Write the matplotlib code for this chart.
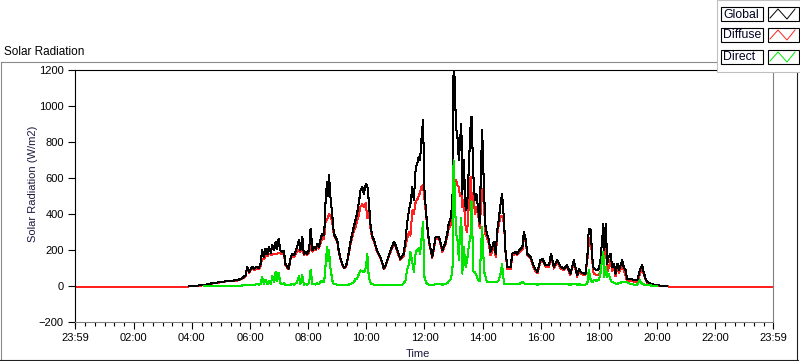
import numpy as np
import matplotlib
matplotlib.use("Agg")
import matplotlib.pyplot as plt
from matplotlib.lines import Line2D
from matplotlib.patches import Rectangle

plt.rcParams['font.family'] = ['Liberation Sans', 'DejaVu Sans']

# readings taken off the chart (W/m2), None = no sample
times = ["00:00", "03:53", "03:55", "04:10", "04:25", "04:40", "05:00", "05:15", "05:25", "05:34",
         "05:45", "05:51", "05:54", "05:58", "06:05", "06:09", "06:13", "06:18", "06:22", "06:25",
         "06:29", "06:32", "06:36", "06:39", "06:43", "06:46", "06:50", "06:53", "06:56", "06:59",
         "07:03", "07:06", "07:10", "07:13", "07:17", "07:20", "07:24", "07:28", "07:31", "07:37",
         "07:41", "07:44", "07:48", "07:51", "07:55", "07:58", "08:02", "08:05", "08:09", "08:12",
         "08:16", "08:19", "08:22", "08:26", "08:29", "08:33", "08:36", "08:39", "08:41", "08:43",
         "08:46", "08:50", "08:53", "09:00", "09:03", "09:07", "09:10", "09:14", "09:18", "09:21",
         "09:28", "09:34", "09:38", "09:41", "09:45", "09:48", "09:52", "09:55", "09:59", "10:02",
         "10:05", "10:09", "10:12", "10:16", "10:22", "10:29", "10:33", "10:36", "10:40", "10:43",
         "10:50", "10:57", "11:00", "11:04", "11:10", "11:14", "11:17", "11:21", "11:24", "11:28",
         "11:31", "11:35", "11:38", "11:42", "11:45", "11:48", "11:51", "11:53", "11:57", "12:00",
         "12:03", "12:06", "12:09", "12:16", "12:23", "12:30", "12:37", "12:43", "12:47", "12:50",
         "12:55", "12:58", "13:00", "13:02", "13:05", "13:08", "13:11", "13:13", "13:16", "13:18",
         "13:21", "13:25", "13:28", "13:32", "13:35", "13:37", "13:41", "13:44", "13:47", "13:51",
         "13:54", "13:56", "13:59", "14:03", "14:06", "14:09", "14:13", "14:16", "14:20", "14:23",
         "14:27", "14:30", "14:33", "14:37", "14:40", "14:44", "14:47", "14:51", "14:58", "15:01",
         "15:08", "15:11", "15:15", "15:22", "15:25", "15:29", "15:32", "15:39", "15:46", "15:53",
         "15:59", "16:03", "16:10", "16:17", "16:21", "16:27", "16:34", "16:41", "16:48", "16:54",
         "17:01", "17:08", "17:15", "17:19", "17:22", "17:29", "17:32", "17:36", "17:39", "17:43",
         "17:46", "17:49", "17:56", "18:00", "18:03", "18:07", "18:09", "18:11", "18:14", "18:17",
         "18:20", "18:24", "18:27", "18:31", "18:34", "18:38", "18:41", "18:48", "18:51", "18:55",
         "18:58", "19:05", "19:12", "19:19", "19:24", "19:29", "19:33", "19:36", "19:40", "19:46",
         "19:53", "20:00", "20:07", "20:21", "20:23", "23:59"]

global_rad = [None, None, 0, 2, 5, 14, 22, 28, 30, 32,
              45, 60, 106, 80, 106, 95, 108, 100, 124, 198,
              161, 208, 175, 217, 185, 226, 200, 245, 205, 263,
              198, 190, 195, 124, 106, 97, 161, 180, 170, 217,
              254, 200, 272, 180, 190, 180, 200, 319, 198, 217,
              208, 235, 217, 263, 291, 282, 476, 578, 500, 615,
              495, 384, 291, 254, 198, 150, 124, 102, 110, 143,
              254, 328, 370, 402, 470, 532, 550, 513, 569, 560,
              476, 328, 280, 254, 198, 161, 130, 97, 115, 143,
              198, 245, 230, 198, 152, 165, 180, 254, 347, 421,
              458, 550, 476, 661, 680, 717, 700, 791, 920, 532,
              420, 328, 254, 161, 272, 272, 198, 240, 292, 347,
              383, 513, 1200, 1161, 884, 828, 698, 791, 902, 513,
              698, 421, 439, 698, 884, 939, 606, 476, 513, 421,
              347, 606, 865, 513, 328, 291, 254, 189, 217, 245,
              180, 309, 365, 458, 513, 365, 198, 106, 106, 180,
              189, 180, 198, 217, 300, 254, 180, 161, 105, 78,
              143, 152, 115, 115, 180, 106, 143, 106, 97, 115,
              69, 143, 60, 97, 78, 69, 69, 161, 319, 310,
              161, 97, 87, 97, 143, 272, 347, 198, 347, 124,
              161, 180, 106, 124, 69, 124, 87, 143, 106, 87,
              41, 41, 32, 32, 87, 115, 69, 41, 22, 13,
              8, 4, 2, 0, None, None]

diffuse_rad = [-3, -3, -2, 1, 4, 13, 21, 27, 29, 30,
               42, 54, 96, 74, 98, 88, 98, 92, 112, 150,
               150, 170, 165, 180, 175, 175, 180, 175, 180, 185,
               180, 178, 180, 118, 100, 92, 152, 170, 162, 195,
               200, 190, 215, 172, 180, 172, 185, 230, 190, 205,
               200, 220, 208, 240, 265, 262, 360, 370, 380, 400,
               390, 350, 280, 245, 192, 145, 120, 98, 105, 138,
               240, 300, 330, 360, 400, 440, 455, 440, 460, 375,
               420, 310, 270, 245, 190, 155, 125, 92, 110, 138,
               190, 235, 222, 190, 146, 155, 165, 225, 260, 300,
               280, 420, 400, 470, 480, 500, 520, 550, 560, 480,
               400, 315, 245, 155, 262, 262, 190, 230, 275, 320,
               340, 400, 513, 560, 590, 560, 550, 500, 520, 440,
               480, 320, 300, 470, 606, 470, 520, 400, 439, 390,
               320, 420, 540, 440, 280, 270, 232, 170, 195, 223,
               160, 285, 335, 390, 390, 350, 188, 96, 96, 170,
               179, 170, 188, 200, 285, 244, 170, 151, 95, 70,
               133, 142, 106, 106, 168, 97, 133, 97, 88, 106,
               61, 133, 52, 88, 70, 61, 61, 145, 240, 270,
               140, 68, 60, 60, 80, 150, 190, 140, 230, 80,
               100, 150, 85, 105, 55, 110, 70, 120, 85, 60,
               20, 30, 24, 24, 60, 100, 60, 35, 18, 10,
               6, 3, 1, -1, -3, -3]

direct_rad = [None, None, None, None, 0, 0, 0, 0, 0, 1,
              3, 5, 8, 6, 8, 7, 10, 8, 12, 50,
              10, 35, 10, 30, 10, 55, 20, 80, 25, 75,
              15, 12, 15, 5, 5, 5, 8, 10, 8, 20,
              55, 10, 60, 8, 10, 8, 15, 90, 10, 12,
              8, 15, 10, 25, 25, 20, 115, 217, 140, 200,
              100, 30, 10, 8, 6, 5, 5, 4, 5, 5,
              12, 20, 40, 40, 70, 87, 80, 75, 100, 180,
              50, 15, 10, 8, 7, 6, 5, 5, 5, 5,
              6, 8, 8, 8, 6, 8, 15, 30, 90, 120,
              189, 130, 80, 190, 200, 210, 180, 240, 356, 50,
              20, 10, 8, 6, 10, 10, 8, 10, 15, 25,
              40, 110, 698, 569, 291, 260, 143, 291, 380, 69,
              217, 106, 143, 235, 280, 470, 80, 80, 60, 32,
              25, 180, 328, 80, 50, 22, 22, 20, 22, 22,
              20, 22, 30, 69, 124, 13, 10, 10, 10, 10,
              10, 10, 10, 22, 15, 10, 10, 10, 10, 8,
              10, 10, 9, 9, 12, 9, 10, 9, 9, 9,
              8, 10, 8, 9, 8, 8, 8, 15, 87, 32,
              20, 32, 30, 35, 69, 161, 190, 50, 106, 50,
              69, 32, 22, 18, 13, 13, 15, 22, 20, 25,
              20, 10, 8, 8, 32, 12, 8, 6, 4, 3,
              2, 0, None, None, None, None]

series_names = ["Global", "Diffuse", "Direct"]
series_colors = ["#000000", "#ff2020", "#00e600"]

y_ticks = [-200, 0, 200, 400, 600, 800, 1000, 1200]
x_tick_labels = ["23:59", "02:00", "04:00", "06:00", "08:00", "10:00", "12:00",
                 "14:00", "16:00", "18:00", "20:00", "22:00", "23:59"]
x_tick_pos = [-1 / 60, 2, 4, 6, 8, 10, 12, 14, 16, 18, 20, 22, 24 - 1 / 60]


def hours(s):
    h, m = s.split(":")
    return int(h) + int(m) / 60


t = np.array([hours(s) for s in times])
G = np.array(global_rad, dtype=float)
D = np.array(diffuse_rad, dtype=float)
B = np.array(direct_rad, dtype=float)

W, H = 800, 361


def fx(x):
    return x / W


def fy(y):
    return 1 - y / H


fig = plt.figure(figsize=(8, 3.61), dpi=100)
fig.patch.set_facecolor("white")
ax = fig.add_axes([fx(75), fy(322), 698 / W, 252 / H])

# diffuse under global, direct on top
lw = 0.75
ax.plot(t, D, color=series_colors[1], lw=lw, antialiased=False, zorder=2)
ax.plot(t, G, color=series_colors[0], lw=lw, antialiased=False, zorder=3)
ax.plot(t, B, color=series_colors[2], lw=lw, antialiased=False, zorder=4)

ax.set_xlim(-1 / 60, 24 - 1 / 60)
ax.set_ylim(-200, 1200)
ax.set_yticks(y_ticks)
ax.set_xticks(x_tick_pos)
ax.set_xticklabels(x_tick_labels)
ax.set_xticks(np.arange(0, 24, 1 / 3), minor=True)
ax.tick_params(axis="both", which="major", direction="out", length=5, width=0.8,
               labelsize=8, pad=3, colors="black")
ax.tick_params(axis="x", which="minor", direction="out", length=3, width=0.8)
ax.tick_params(axis="y", which="minor", left=False)

for side in ["left", "top"]:
    ax.spines[side].set_color("black")
    ax.spines[side].set_linewidth(0.8)
for side in ["right", "bottom"]:
    ax.spines[side].set_color("#808080")
    ax.spines[side].set_linewidth(0.8)

# chart frame and labels
fig.add_artist(Line2D([fx(1), fx(717)], [fy(62), fy(62)], color="#8a8a8a", lw=0.8))
fig.add_artist(Line2D([fx(1), fx(1)], [fy(62), fy(360)], color="#8a8a8a", lw=0.8))
fig.add_artist(Line2D([fx(0), fx(798)], [fy(360), fy(360)], color="#202020", lw=0.8))
fig.add_artist(Line2D([fx(797), fx(797)], [fy(72), fy(360)], color="#202020", lw=0.8))

fig.text(fx(4), fy(55), "Solar Radiation", fontsize=8.5, va="baseline", ha="left")
fig.text(fx(33), fy(184), "Solar Radiation (W/m2)", fontsize=8, rotation=90,
         va="center", ha="center", color="#1a1a40")
fig.text(fx(418), fy(357), "Time", fontsize=8, va="baseline", ha="center", color="#1a1a40")

# legend block
fig.add_artist(Rectangle((fx(717), fy(72)), 83 / W, 72 / H, facecolor="white",
                         edgecolor="#c0c0c0", lw=0.8, zorder=5))
row_tops = [7, 28, 50]
for name, col, top in zip(series_names, series_colors, row_tops):
    fig.add_artist(Rectangle((fx(721), fy(top + 14)), 42 / W, 14 / H, facecolor="white",
                             edgecolor="black", lw=0.8, zorder=6))
    fig.add_artist(Rectangle((fx(768), fy(top + 14)), 31 / W, 14 / H, facecolor="white",
                             edgecolor="black", lw=0.8, zorder=6))
    fig.text(fx(723), fy(top + 7.5), name, fontsize=8.8, va="center", ha="left",
             color="#000020", zorder=7)
    zx = [770, 778, 787, 795]
    zy = [top + 11, top + 2, top + 12, top + 2]
    fig.add_artist(Line2D([fx(v) for v in zx], [fy(v) for v in zy], color=col, lw=0.7,
                          zorder=7))

fig.savefig("out.png", dpi=100, facecolor="white")
